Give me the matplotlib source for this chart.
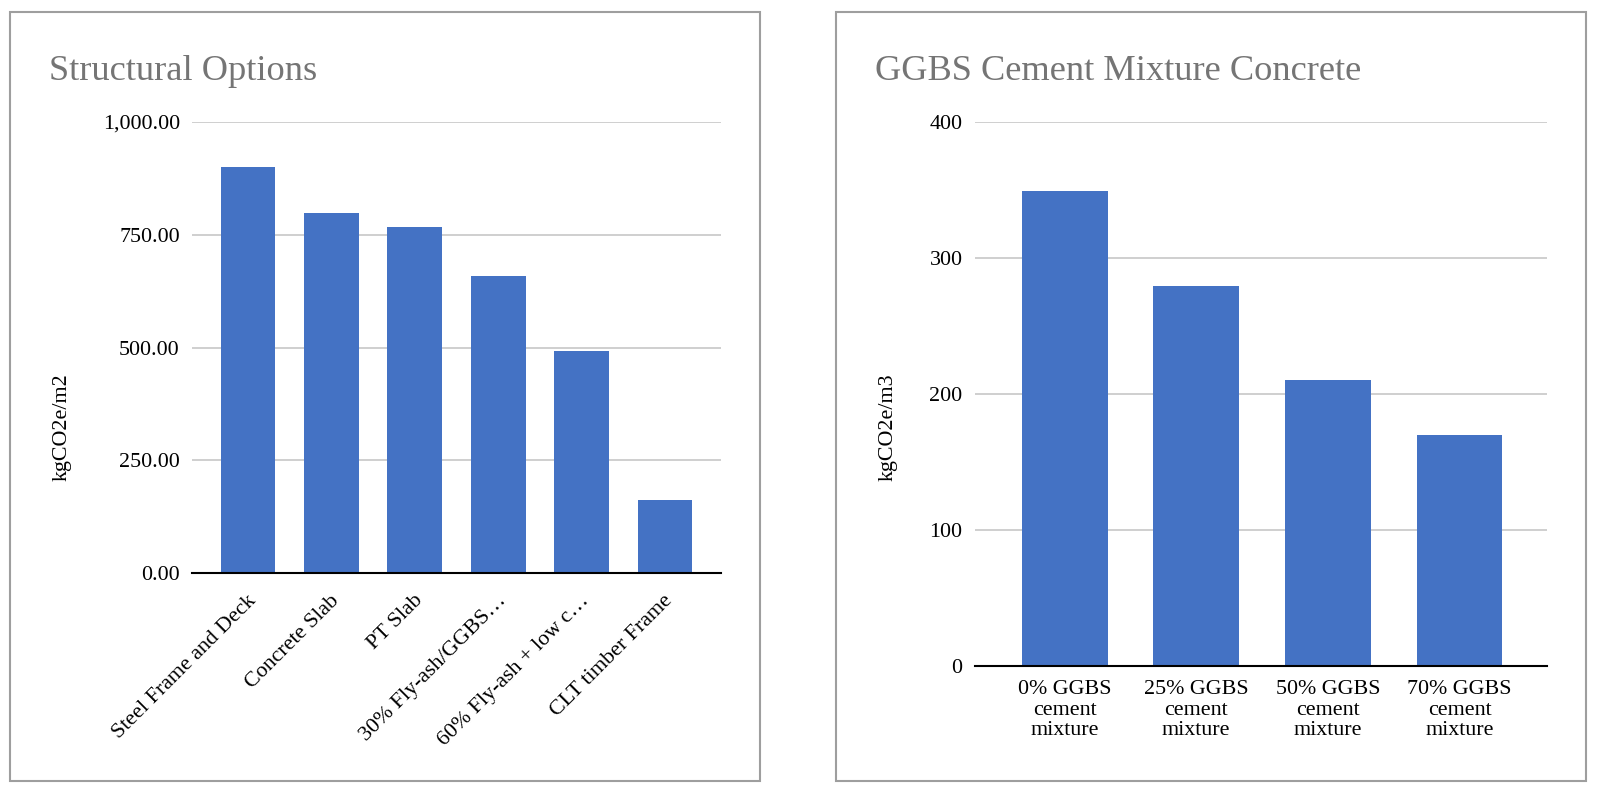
import matplotlib
matplotlib.use("Agg")
import matplotlib.pyplot as plt
from matplotlib.patches import Rectangle

# ---- data ----
structural_labels = ["Steel Frame and Deck", "Concrete Slab", "PT Slab",
                     "30% Fly-ash/GGBS…", "60% Fly-ash + low c…",
                     "CLT timber Frame"]
structural_values = [900, 799, 768, 659, 493, 162]
structural_ticks = [0, 250, 500, 750, 1000]

ggbs_labels = ["0% GGBS\ncement\nmixture", "25% GGBS\ncement\nmixture",
               "50% GGBS\ncement\nmixture", "70% GGBS\ncement\nmixture"]
ggbs_values = [349, 279, 210, 170]
ggbs_ticks = [0, 100, 200, 300, 400]

BAR_COLOR = "#4472c4"
GRID_COLOR = "#cccccc"
TITLE_COLOR = "#757575"
BORDER_COLOR = "#9e9e9e"
W, H = 1600, 797

plt.rcParams["font.family"] = ["Liberation Serif", "DejaVu Serif"]

fig = plt.figure(figsize=(W / 100, H / 100), dpi=100)


def px_box(x0, y0, x1, y1):
    """pixel box (top-left origin) -> figure fraction [l, b, w, h]"""
    return [x0 / W, 1 - y1 / H, (x1 - x0) / W, (y1 - y0) / H]


# panel borders
for x0, x1 in [(10, 760), (836, 1586)]:
    l, b, w, h = px_box(x0, 12, x1, 781)
    fig.patches.append(Rectangle((l, b), w, h, transform=fig.transFigure,
                                 fill=False, edgecolor=BORDER_COLOR,
                                 linewidth=1.5, zorder=0))


def style_axes(ax, ticks):
    ax.set_yticks(ticks)
    ax.set_ylim(ticks[0], ticks[-1])
    ax.yaxis.grid(True, color=GRID_COLOR, linewidth=1.3)
    ax.set_axisbelow(True)
    for side in ["top", "right", "left"]:
        ax.spines[side].set_visible(False)
    ax.spines["bottom"].set_color("black")
    ax.spines["bottom"].set_linewidth(1.5)
    ax.spines["bottom"].set_zorder(3)
    ax.tick_params(axis="both", length=0)
    ax.tick_params(axis="y", pad=9, labelsize=15.8)


# ---- left: structural options ----
ax1 = fig.add_axes(px_box(192.3, 122, 720.7, 573.3))
x1 = list(range(len(structural_values)))
ax1.bar(x1, structural_values, width=0.655, color=BAR_COLOR, zorder=2)
style_axes(ax1, structural_ticks)
ax1.set_xlim(-0.668, len(structural_values) - 1 + 0.668)
ax1.set_yticklabels([f"{v:,.2f}" for v in structural_ticks])
# rotated labels end a little right of the bar centre (ticks are invisible)
nudge = 0.1
ax1.set_xticks([i + nudge for i in x1])
ax1.set_xticklabels(structural_labels, rotation=45, ha="right",
                    va="baseline", rotation_mode="anchor", fontsize=15.8)
ax1.tick_params(axis="x", pad=20)

# ---- right: GGBS mixtures ----
ax2 = fig.add_axes(px_box(975, 122, 1547.3, 665.7))
x2 = list(range(len(ggbs_values)))
ax2.bar(x2, ggbs_values, width=0.653, color=BAR_COLOR, zorder=2)
style_axes(ax2, ggbs_ticks)
ax2.set_xlim(-0.68, len(ggbs_values) - 1 + 0.667)
ax2.set_xticks(x2)
ax2.set_xticklabels(ggbs_labels, linespacing=1.12, fontsize=15.8)
ax2.tick_params(axis="x", pad=10.3)

# titles and axis titles
fig.text(49 / W, 1 - 80 / H, "Structural Options", fontsize=26.2,
         color=TITLE_COLOR, ha="left", va="baseline")
fig.text(875 / W, 1 - 80 / H, "GGBS Cement Mixture Concrete", fontsize=26.2,
         color=TITLE_COLOR, ha="left", va="baseline")
fig.text(62 / W, 1 - 427 / H, "kgCO2e/m2", fontsize=15.8, rotation=90,
         ha="center", va="center")
fig.text(888 / W, 1 - 427 / H, "kgCO2e/m3", fontsize=15.8, rotation=90,
         ha="center", va="center")

fig.savefig("out.png", dpi=100, facecolor="white")
